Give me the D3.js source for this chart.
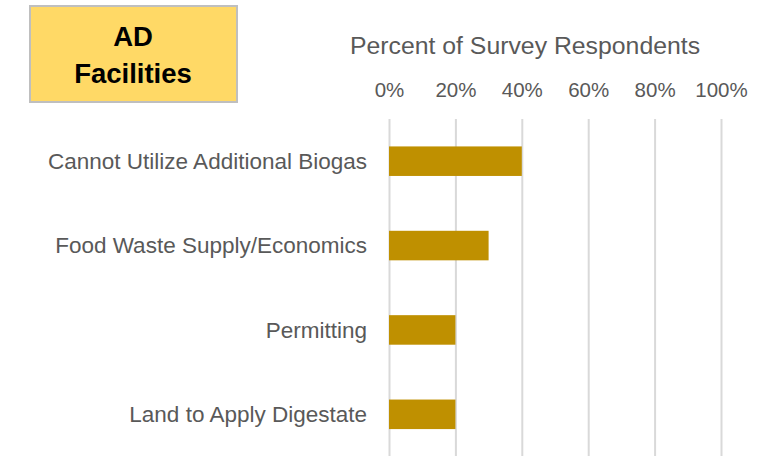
<!DOCTYPE html>
<html>
<head>
<meta charset="utf-8">
<script src="https://cdn.jsdelivr.net/npm/d3@7"></script>
<style>
  body { margin: 0; background: #fff; }
  svg { display: block; font-family: "Liberation Sans", Arial, sans-serif; }
</style>
</head>
<body>
<div class="grafico"></div>
<script>
// dados do gráfico
var categorias = ["Cannot Utilize Additional Biogas", "Food Waste Supply/Economics", "Permitting", "Land to Apply Digestate"];
var valores = [40, 30, 20, 20];
var ticks = [0, 20, 40, 60, 80, 100];
var titulo = "Percent of Survey Respondents";
var caixaTexto = ["AD", "Facilities"];

var width = 768;
var height = 456;

var svg = d3.select(".grafico")
  .append("svg")
    .attr("width", width)
    .attr("height", height);

// escalas
var x = d3.scaleLinear()
  .domain([0, 100])
  .range([389, 721]);

var y = d3.scaleBand()
  .domain(categorias)
  .range([119, 456.5])
  .paddingInner(0.65)
  .paddingOuter(0.325);

// linhas de grade + rótulos do eixo
var xAxis = d3.axisTop(x)
  .tickValues(ticks)
  .tickSize(-(456 - 119))
  .tickFormat(function(d){ return d + "%"; });

var gx = svg.append("g")
  .attr("transform", "translate(0,119)")
  .call(xAxis);

gx.select(".domain").remove();
gx.selectAll(".tick line")
  .attr("stroke", "#d9d9d9")
  .attr("stroke-width", 2);
gx.selectAll(".tick text")
  .attr("y", -22)
  .attr("fill", "#595959")
  .attr("font-size", 20.5)
  .attr("font-family", "Liberation Sans, Arial, sans-serif");

// título do eixo
svg.append("text")
  .attr("x", 525)
  .attr("y", 54)
  .attr("text-anchor", "middle")
  .attr("fill", "#595959")
  .attr("font-size", 24.8)
  .text(titulo);

// barras
svg.selectAll("rect.barra")
  .data(valores)
  .enter()
    .append("rect")
    .attr("class", "barra")
    .attr("x", x(0))
    .attr("y", function(d, i){ return y(categorias[i]); })
    .attr("width", function(d){ return x(d) - x(0); })
    .attr("height", y.bandwidth())
    .attr("fill", "#bf9000");

// rótulos das categorias
svg.selectAll("text.cat")
  .data(categorias)
  .enter()
    .append("text")
    .attr("class", "cat")
    .attr("x", 367)
    .attr("y", function(d){ return y(d) + y.bandwidth() / 2; })
    .attr("dy", "0.35em")
    .attr("text-anchor", "end")
    .attr("fill", "#595959")
    .attr("font-size", 22.5)
    .text(function(d){ return d; });

// caixa amarela
var caixa = svg.append("g");
caixa.append("rect")
  .attr("x", 30)
  .attr("y", 6)
  .attr("width", 207)
  .attr("height", 96)
  .attr("fill", "#ffd966")
  .attr("stroke", "#bfbfbf")
  .attr("stroke-width", 2);

caixa.selectAll("text")
  .data(caixaTexto)
  .enter()
    .append("text")
    .attr("x", 133)
    .attr("y", function(d, i){ return 46 + i * 37; })
    .attr("text-anchor", "middle")
    .attr("font-weight", "bold")
    .attr("font-size", 27.5)
    .attr("fill", "#000")
    .text(function(d){ return d; });
</script>
</body>
</html>
